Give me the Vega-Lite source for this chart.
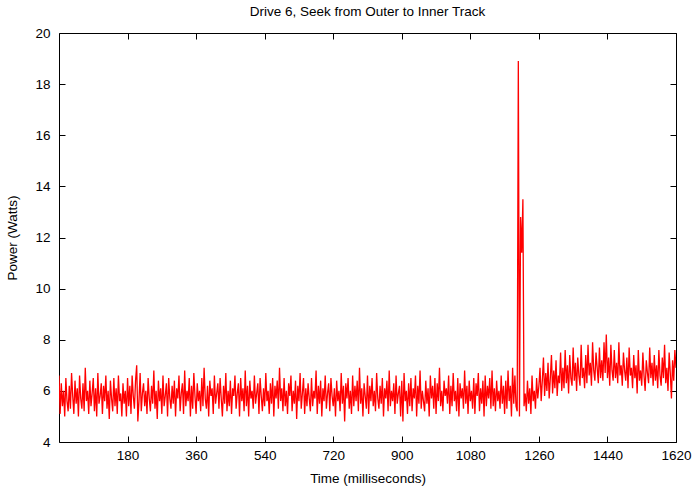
{
  "$schema": "https://vega.github.io/schema/vega-lite/v6.json",
  "width": 617,
  "height": 409,
  "autosize": "none",
  "padding": {"left": 59, "top": 33, "right": 24, "bottom": 53},
  "background": "white",
  "title": {
    "text": "Drive 6, Seek from Outer to Inner Track",
    "font": "Liberation Sans",
    "fontSize": 13.5,
    "fontWeight": "normal",
    "color": "black",
    "anchor": "middle",
    "offset": 8
  },
  "data": {
    "values": [
      {"t":0,"p":6.6},{"t":3,"p":5.1},{"t":6,"p":6.3},{"t":9,"p":5.4},{"t":12,"p":6.0},{"t":15,"p":5.0},{"t":18,"p":6.5},{"t":21,"p":5.6},{"t":24,"p":5.2},{"t":27,"p":6.2},
      {"t":30,"p":5.3},{"t":33,"p":6.7},{"t":36,"p":5.8},{"t":39,"p":5.1},{"t":42,"p":6.4},{"t":45,"p":5.5},{"t":48,"p":6.1},{"t":51,"p":5.0},{"t":54,"p":6.6},{"t":57,"p":5.7},
      {"t":60,"p":5.3},{"t":63,"p":6.3},{"t":66,"p":5.2},{"t":69,"p":6.9},{"t":72,"p":5.6},{"t":75,"p":6.0},{"t":78,"p":5.1},{"t":81,"p":6.4},{"t":84,"p":5.4},{"t":87,"p":5.9},
      {"t":90,"p":6.5},{"t":93,"p":5.2},{"t":96,"p":6.1},{"t":99,"p":5.0},{"t":102,"p":6.7},{"t":105,"p":5.5},{"t":108,"p":5.8},{"t":111,"p":6.3},{"t":114,"p":5.1},{"t":117,"p":6.2},
      {"t":120,"p":5.6},{"t":123,"p":6.6},{"t":126,"p":5.3},{"t":129,"p":6.0},{"t":132,"p":4.9},{"t":135,"p":6.4},{"t":138,"p":5.7},{"t":141,"p":5.2},{"t":144,"p":6.5},{"t":147,"p":5.4},
      {"t":150,"p":6.1},{"t":153,"p":5.1},{"t":156,"p":6.6},{"t":159,"p":5.6},{"t":162,"p":5.9},{"t":165,"p":5.0},{"t":168,"p":6.3},{"t":171,"p":5.5},{"t":174,"p":6.0},{"t":177,"p":5.0},
      {"t":180,"p":6.5},{"t":183,"p":5.4},{"t":186,"p":6.2},{"t":189,"p":5.1},{"t":192,"p":6.6},{"t":195,"p":5.8},{"t":198,"p":5.3},{"t":201,"p":6.4},{"t":204,"p":7.0},{"t":207,"p":4.8},
      {"t":210,"p":5.6},{"t":213,"p":6.7},{"t":216,"p":5.2},{"t":219,"p":5.9},{"t":222,"p":6.3},{"t":225,"p":5.4},{"t":228,"p":6.0},{"t":231,"p":5.1},{"t":234,"p":6.5},{"t":237,"p":5.7},
      {"t":240,"p":5.2},{"t":243,"p":6.2},{"t":246,"p":5.5},{"t":249,"p":6.8},{"t":252,"p":5.3},{"t":255,"p":6.0},{"t":258,"p":4.9},{"t":261,"p":6.4},{"t":264,"p":5.6},{"t":267,"p":6.1},
      {"t":270,"p":5.1},{"t":273,"p":6.6},{"t":276,"p":5.4},{"t":279,"p":5.8},{"t":282,"p":6.3},{"t":285,"p":5.0},{"t":288,"p":6.5},{"t":291,"p":5.7},{"t":294,"p":5.3},{"t":297,"p":6.2},
      {"t":300,"p":5.5},{"t":303,"p":6.4},{"t":306,"p":5.0},{"t":309,"p":6.1},{"t":312,"p":5.7},{"t":315,"p":6.6},{"t":318,"p":5.2},{"t":321,"p":5.9},{"t":324,"p":6.3},{"t":327,"p":5.1},
      {"t":330,"p":6.8},{"t":333,"p":5.4},{"t":336,"p":6.0},{"t":339,"p":5.6},{"t":342,"p":6.5},{"t":345,"p":5.0},{"t":348,"p":6.2},{"t":351,"p":5.3},{"t":354,"p":6.7},{"t":357,"p":5.8},
      {"t":360,"p":5.1},{"t":363,"p":6.3},{"t":366,"p":5.6},{"t":369,"p":6.0},{"t":372,"p":5.2},{"t":375,"p":6.5},{"t":378,"p":5.4},{"t":381,"p":6.9},{"t":384,"p":5.7},{"t":387,"p":5.3},
      {"t":390,"p":6.2},{"t":393,"p":5.0},{"t":396,"p":6.4},{"t":399,"p":5.8},{"t":402,"p":6.1},{"t":405,"p":5.1},{"t":408,"p":6.6},{"t":411,"p":5.5},{"t":414,"p":5.9},{"t":417,"p":6.3},
      {"t":420,"p":5.3},{"t":423,"p":6.5},{"t":426,"p":5.7},{"t":429,"p":5.0},{"t":432,"p":6.2},{"t":435,"p":5.5},{"t":438,"p":6.7},{"t":441,"p":5.2},{"t":444,"p":6.0},{"t":447,"p":5.4},
      {"t":450,"p":6.4},{"t":453,"p":5.1},{"t":456,"p":6.1},{"t":459,"p":5.8},{"t":462,"p":6.6},{"t":465,"p":5.3},{"t":468,"p":5.9},{"t":471,"p":6.3},{"t":474,"p":5.0},{"t":477,"p":6.5},
      {"t":480,"p":5.6},{"t":483,"p":6.1},{"t":486,"p":5.2},{"t":489,"p":6.8},{"t":492,"p":5.4},{"t":495,"p":6.2},{"t":498,"p":5.0},{"t":501,"p":6.4},{"t":504,"p":5.7},{"t":507,"p":6.0},
      {"t":510,"p":5.3},{"t":513,"p":6.6},{"t":516,"p":5.5},{"t":519,"p":5.9},{"t":522,"p":6.3},{"t":525,"p":5.1},{"t":528,"p":6.5},{"t":531,"p":5.8},{"t":534,"p":5.2},{"t":537,"p":6.1},
      {"t":540,"p":5.4},{"t":543,"p":6.7},{"t":546,"p":5.6},{"t":549,"p":6.0},{"t":552,"p":5.1},{"t":555,"p":6.3},{"t":558,"p":5.5},{"t":561,"p":6.5},{"t":564,"p":5.0},{"t":567,"p":6.2},
      {"t":570,"p":5.7},{"t":573,"p":6.4},{"t":576,"p":5.3},{"t":579,"p":6.9},{"t":582,"p":5.6},{"t":585,"p":6.1},{"t":588,"p":5.2},{"t":591,"p":6.5},{"t":594,"p":5.4},{"t":597,"p":6.0},
      {"t":600,"p":5.1},{"t":603,"p":6.3},{"t":606,"p":5.8},{"t":609,"p":6.6},{"t":612,"p":5.2},{"t":615,"p":6.0},{"t":618,"p":5.5},{"t":621,"p":6.4},{"t":624,"p":4.9},{"t":627,"p":6.2},
      {"t":630,"p":5.6},{"t":633,"p":6.7},{"t":636,"p":5.3},{"t":639,"p":5.9},{"t":642,"p":6.5},{"t":645,"p":5.1},{"t":648,"p":6.1},{"t":651,"p":5.4},{"t":654,"p":6.3},{"t":657,"p":5.7},
      {"t":660,"p":5.2},{"t":663,"p":6.5},{"t":666,"p":5.4},{"t":669,"p":6.0},{"t":672,"p":5.7},{"t":675,"p":6.8},{"t":678,"p":5.1},{"t":681,"p":6.2},{"t":684,"p":5.5},{"t":687,"p":6.4},
      {"t":690,"p":5.0},{"t":693,"p":6.1},{"t":696,"p":5.6},{"t":699,"p":6.6},{"t":702,"p":5.3},{"t":705,"p":5.9},{"t":708,"p":6.3},{"t":711,"p":5.2},{"t":714,"p":6.5},{"t":717,"p":5.8},
      {"t":720,"p":5.4},{"t":723,"p":6.1},{"t":726,"p":5.0},{"t":729,"p":6.4},{"t":732,"p":5.6},{"t":735,"p":6.0},{"t":738,"p":5.2},{"t":741,"p":6.7},{"t":744,"p":5.5},{"t":747,"p":6.2},
      {"t":750,"p":4.8},{"t":753,"p":6.3},{"t":756,"p":5.7},{"t":759,"p":6.5},{"t":762,"p":5.3},{"t":765,"p":6.0},{"t":768,"p":5.1},{"t":771,"p":6.6},{"t":774,"p":5.4},{"t":777,"p":6.2},
      {"t":780,"p":5.6},{"t":783,"p":6.4},{"t":786,"p":5.2},{"t":789,"p":6.9},{"t":792,"p":5.5},{"t":795,"p":6.1},{"t":798,"p":5.0},{"t":801,"p":6.3},{"t":804,"p":5.8},{"t":807,"p":5.3},
      {"t":810,"p":6.6},{"t":813,"p":5.1},{"t":816,"p":6.2},{"t":819,"p":5.6},{"t":822,"p":6.5},{"t":825,"p":5.4},{"t":828,"p":6.0},{"t":831,"p":5.2},{"t":834,"p":6.7},{"t":837,"p":5.7},
      {"t":840,"p":5.3},{"t":843,"p":6.2},{"t":846,"p":5.5},{"t":849,"p":6.5},{"t":852,"p":5.0},{"t":855,"p":6.1},{"t":858,"p":5.7},{"t":861,"p":6.4},{"t":864,"p":5.2},{"t":867,"p":6.8},
      {"t":870,"p":5.4},{"t":873,"p":6.0},{"t":876,"p":5.6},{"t":879,"p":6.3},{"t":882,"p":5.1},{"t":885,"p":6.6},{"t":888,"p":5.5},{"t":891,"p":5.9},{"t":894,"p":6.2},{"t":897,"p":5.0},
      {"t":900,"p":6.4},{"t":903,"p":4.8},{"t":906,"p":6.7},{"t":909,"p":5.6},{"t":912,"p":6.0},{"t":915,"p":5.1},{"t":918,"p":6.3},{"t":921,"p":5.4},{"t":924,"p":6.5},{"t":927,"p":5.2},
      {"t":930,"p":6.1},{"t":933,"p":5.7},{"t":936,"p":6.6},{"t":939,"p":5.0},{"t":942,"p":6.2},{"t":945,"p":5.5},{"t":948,"p":6.8},{"t":951,"p":5.3},{"t":954,"p":6.0},{"t":957,"p":5.6},
      {"t":960,"p":5.2},{"t":963,"p":6.4},{"t":966,"p":5.5},{"t":969,"p":6.1},{"t":972,"p":5.0},{"t":975,"p":6.6},{"t":978,"p":5.7},{"t":981,"p":6.2},{"t":984,"p":5.3},{"t":987,"p":6.5},
      {"t":990,"p":5.1},{"t":993,"p":6.3},{"t":996,"p":5.6},{"t":999,"p":6.9},{"t":1002,"p":5.4},{"t":1005,"p":6.0},{"t":1008,"p":5.2},{"t":1011,"p":6.4},{"t":1014,"p":5.8},{"t":1017,"p":6.1},
      {"t":1020,"p":5.5},{"t":1023,"p":6.6},{"t":1026,"p":5.1},{"t":1029,"p":6.2},{"t":1032,"p":5.4},{"t":1035,"p":6.7},{"t":1038,"p":5.6},{"t":1041,"p":6.0},{"t":1044,"p":5.2},{"t":1047,"p":6.5},
      {"t":1050,"p":5.0},{"t":1053,"p":6.3},{"t":1056,"p":5.7},{"t":1059,"p":6.1},{"t":1062,"p":5.3},{"t":1065,"p":6.8},{"t":1068,"p":5.5},{"t":1071,"p":6.2},{"t":1074,"p":5.1},{"t":1077,"p":6.4},
      {"t":1080,"p":5.6},{"t":1083,"p":6.0},{"t":1086,"p":5.3},{"t":1089,"p":6.5},{"t":1092,"p":5.1},{"t":1095,"p":6.3},{"t":1098,"p":5.8},{"t":1101,"p":6.7},{"t":1104,"p":5.2},{"t":1107,"p":6.1},
      {"t":1110,"p":5.5},{"t":1113,"p":6.4},{"t":1116,"p":5.0},{"t":1119,"p":6.6},{"t":1122,"p":5.4},{"t":1125,"p":6.2},{"t":1128,"p":5.7},{"t":1131,"p":6.5},{"t":1134,"p":5.3},{"t":1137,"p":6.8},
      {"t":1140,"p":5.4},{"t":1143,"p":6.1},{"t":1146,"p":5.2},{"t":1149,"p":6.4},{"t":1152,"p":5.6},{"t":1155,"p":6.0},{"t":1158,"p":5.3},{"t":1161,"p":6.6},{"t":1164,"p":5.5},{"t":1167,"p":6.2},
      {"t":1170,"p":5.1},{"t":1173,"p":6.4},{"t":1176,"p":5.3},{"t":1179,"p":6.8},{"t":1182,"p":5.6},{"t":1185,"p":6.2},{"t":1188,"p":5.0},{"t":1191,"p":6.9},{"t":1194,"p":5.5},{"t":1197,"p":6.6},
      {"t":1200,"p":5.4},{"t":1203,"p":5.2},{"t":1206,"p":18.9},{"t":1209,"p":5.0},{"t":1212,"p":12.8},{"t":1215,"p":11.4},{"t":1218,"p":13.5},{"t":1221,"p":5.4},{"t":1224,"p":5.9},{"t":1227,"p":5.2},
      {"t":1230,"p":6.4},{"t":1233,"p":5.5},{"t":1236,"p":6.1},{"t":1239,"p":5.1},{"t":1242,"p":6.6},{"t":1245,"p":5.6},{"t":1248,"p":6.0},{"t":1251,"p":5.3},{"t":1254,"p":6.5},{"t":1257,"p":5.7},
      {"t":1260,"p":6.2},{"t":1263,"p":6.9},{"t":1266,"p":5.6},{"t":1269,"p":6.4},{"t":1272,"p":7.3},{"t":1275,"p":5.8},{"t":1278,"p":6.7},{"t":1281,"p":6.0},{"t":1284,"p":7.1},{"t":1287,"p":5.7},
      {"t":1290,"p":6.5},{"t":1293,"p":7.4},{"t":1296,"p":5.9},{"t":1299,"p":6.8},{"t":1302,"p":6.1},{"t":1305,"p":7.2},{"t":1308,"p":5.8},{"t":1311,"p":6.6},{"t":1314,"p":6.3},{"t":1317,"p":7.5},
      {"t":1320,"p":6.0},{"t":1323,"p":6.9},{"t":1326,"p":6.1},{"t":1329,"p":7.6},{"t":1332,"p":6.3},{"t":1335,"p":7.0},{"t":1338,"p":5.9},{"t":1341,"p":7.4},{"t":1344,"p":6.5},{"t":1347,"p":6.2},
      {"t":1350,"p":7.7},{"t":1353,"p":6.4},{"t":1356,"p":7.1},{"t":1359,"p":6.0},{"t":1362,"p":7.3},{"t":1365,"p":6.6},{"t":1368,"p":6.2},{"t":1371,"p":7.8},{"t":1374,"p":6.5},{"t":1377,"p":6.9},
      {"t":1380,"p":6.1},{"t":1383,"p":7.4},{"t":1386,"p":6.3},{"t":1389,"p":7.8},{"t":1392,"p":6.6},{"t":1395,"p":7.1},{"t":1398,"p":6.2},{"t":1401,"p":7.9},{"t":1404,"p":6.8},{"t":1407,"p":6.4},
      {"t":1410,"p":7.5},{"t":1413,"p":6.9},{"t":1416,"p":6.3},{"t":1419,"p":7.7},{"t":1422,"p":6.5},{"t":1425,"p":7.2},{"t":1428,"p":6.4},{"t":1431,"p":7.9},{"t":1434,"p":6.7},{"t":1437,"p":8.2},
      {"t":1440,"p":6.5},{"t":1443,"p":7.3},{"t":1446,"p":6.2},{"t":1449,"p":7.8},{"t":1452,"p":6.8},{"t":1455,"p":6.4},{"t":1458,"p":7.6},{"t":1461,"p":6.5},{"t":1464,"p":7.1},{"t":1467,"p":6.3},
      {"t":1470,"p":7.9},{"t":1473,"p":6.6},{"t":1476,"p":7.0},{"t":1479,"p":6.2},{"t":1482,"p":7.5},{"t":1485,"p":6.8},{"t":1488,"p":6.4},{"t":1491,"p":7.3},{"t":1494,"p":6.1},{"t":1497,"p":7.7},
      {"t":1500,"p":6.6},{"t":1503,"p":6.9},{"t":1506,"p":6.1},{"t":1509,"p":7.4},{"t":1512,"p":6.5},{"t":1515,"p":7.0},{"t":1518,"p":5.9},{"t":1521,"p":7.6},{"t":1524,"p":6.4},{"t":1527,"p":6.8},
      {"t":1530,"p":6.2},{"t":1533,"p":7.5},{"t":1536,"p":6.6},{"t":1539,"p":6.0},{"t":1542,"p":7.2},{"t":1545,"p":6.7},{"t":1548,"p":6.3},{"t":1551,"p":7.7},{"t":1554,"p":6.5},{"t":1557,"p":7.1},
      {"t":1560,"p":6.2},{"t":1563,"p":7.4},{"t":1566,"p":6.4},{"t":1569,"p":7.0},{"t":1572,"p":6.1},{"t":1575,"p":7.6},{"t":1578,"p":6.6},{"t":1581,"p":6.2},{"t":1584,"p":7.3},{"t":1587,"p":6.5},
      {"t":1590,"p":7.8},{"t":1593,"p":6.3},{"t":1596,"p":6.9},{"t":1599,"p":6.0},{"t":1602,"p":7.5},{"t":1605,"p":6.7},{"t":1608,"p":5.7},{"t":1611,"p":7.2},{"t":1614,"p":6.4},{"t":1617,"p":7.6},
      {"t":1620,"p":6.9}
    ]
  },
  "layer": [
    {
      "mark": {"type": "line", "color": "#ff0000", "strokeWidth": 1.3, "clip": true},
      "encoding": {
        "x": {
          "field": "t",
          "type": "quantitative",
          "scale": {"domain": [0, 1620], "nice": false, "zero": false},
          "axis": {
            "orient": "bottom",
            "title": "Time (milliseconds)",
            "values": [180, 360, 540, 720, 900, 1080, 1260, 1440, 1620],
            "format": "d",
            "labelFlush": false,
            "labelPadding": 12,
            "titlePadding": 10
          }
        },
        "y": {
          "field": "p",
          "type": "quantitative",
          "scale": {"domain": [4, 20], "nice": false, "zero": false},
          "axis": {
            "orient": "left",
            "title": "Power (Watts)",
            "values": [4, 6, 8, 10, 12, 14, 16, 18, 20],
            "format": "d",
            "labelFlush": false,
            "labelPadding": 15,
            "titlePadding": 15
          }
        }
      }
    },
    {
      "mark": {"type": "line", "strokeOpacity": 0},
      "encoding": {
        "x": {
          "field": "t",
          "type": "quantitative",
          "scale": {"domain": [0, 1620], "nice": false, "zero": false},
          "axis": {
            "orient": "top",
            "title": null,
            "labels": false,
            "values": [180, 360, 540, 720, 900, 1080, 1260, 1440, 1620]
          }
        },
        "y": {
          "field": "p",
          "type": "quantitative",
          "scale": {"domain": [4, 20], "nice": false, "zero": false},
          "axis": {
            "orient": "right",
            "title": null,
            "labels": false,
            "values": [4, 6, 8, 10, 12, 14, 16, 18, 20]
          }
        }
      }
    }
  ],
  "resolve": {"axis": {"x": "independent", "y": "independent"}},
  "config": {
    "view": {"stroke": "black", "strokeWidth": 1},
    "axis": {
      "domain": false,
      "grid": false,
      "ticks": true,
      "tickSize": -6,
      "tickColor": "black",
      "tickWidth": 1,
      "labelFont": "Liberation Sans",
      "labelFontSize": 13.5,
      "labelColor": "black",
      "titleFont": "Liberation Sans",
      "titleFontSize": 13.5,
      "titleFontWeight": "normal",
      "titleColor": "black"
    }
  }
}
